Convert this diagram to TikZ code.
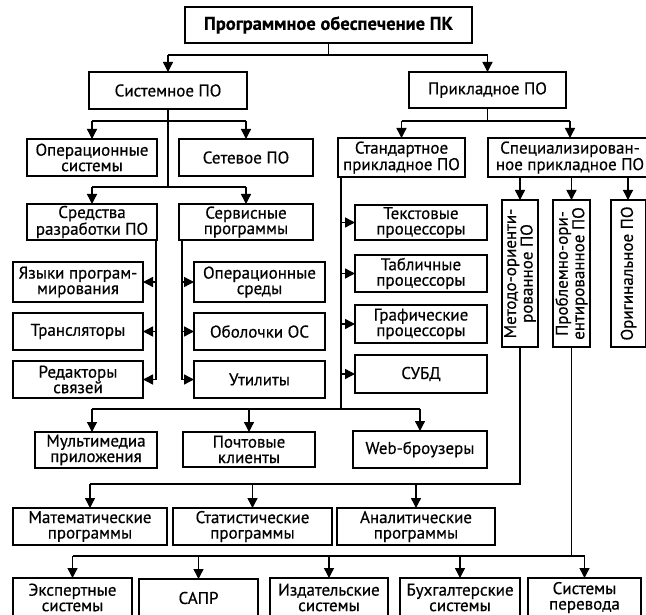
\documentclass[tikz,border=0pt]{standalone}
\usepackage{fontspec}
\setmainfont{PT Sans}[FakeBold=0.5]
\usetikzlibrary{arrows.meta}
\begin{document}
\begin{tikzpicture}[x=1pt,y=-1pt,
  box/.style={draw, line width=1.5pt, inner sep=0pt, outer sep=0pt, align=center,
    font=\fontsize{17}{15.5}\selectfont},
  bigbox/.style={box, line width=2.4pt},
  line/.style={line width=1.4pt},
  arr/.style={line width=1.4pt, -{Triangle[length=10pt,width=10pt]}}]
\newcommand\bx[7][]{\node[box,#1, minimum width={#5-#3}, minimum height={#6-#4}] (#2) at ({(#3+#5)/2},{(#4+#6)/2}) {#7};}
\newcommand\vbx[6]{\node[box, rotate=90, minimum width={#5-#3}, minimum height={#4-#2}] (#1) at ({(#2+#4)/2},{(#3+#5)/2}) {#6};}
\useasboundingbox (0,0) rectangle (646,615);
\clip (0,0) rectangle (646,615);
\fill[white] (0,0) rectangle (646,615);
% nodes
\bx[bigbox,font=\fontsize{18.5}{15.5}\selectfont\bfseries]{top}{185}{7}{472}{43}{Программное обеспечение ПК}
\bx[bigbox]{sys}{89}{72}{247}{109}{Системное ПО}
\bx[bigbox]{app}{409}{72}{566}{108}{Прикладное ПО}
\bx{os}{27}{139}{157}{176}{Операционные\\системы}
\bx{net}{179}{139}{313}{176}{Сетевое ПО}
\bx{dev}{27}{204}{157}{240}{Средства\\разработки ПО}
\bx{serv}{179}{204}{313}{240}{Сервисные\\программы}
\bx{lang}{13}{262}{143}{302}{Языки програм-\\мирования}
\bx{trans}{13}{313}{143}{350}{Трансляторы}
\bx{link}{13}{361}{143}{398}{Редакторы\\связей}
\bx{env}{194}{262}{325}{302}{Операционные\\среды}
\bx{shell}{194}{313}{325}{350}{Оболочки ОС}
\bx{util}{194}{361}{325}{398}{Утилиты}
\bx{std}{338}{138}{465}{177}{Стандартное\\прикладное ПО}
\bx{spec}{488}{138}{652}{177}{Специализирован-\\ное прикладное ПО}
\bx{text}{355}{205}{487}{240}{Текстовые\\процессоры}
\bx{table}{355}{255}{487}{292}{Табличные\\процессоры}
\bx{graph}{355}{305}{487}{343}{Графические\\процессоры}
\bx{dbms}{355}{355}{487}{393}{СУБД}
\vbx{meth}{502}{200}{538}{347}{Методо-ориенти-\\рованное ПО}
\vbx{prob}{553}{200}{590}{347}{Проблемно-ори-\\ентированное ПО}
\vbx{orig}{611}{200}{646}{347}{Оригинальное ПО}
\bx{mm}{35}{432}{157}{468}{Мультимедиа\\приложения}
\bx{mail}{183}{432}{315}{467}{Почтовые\\клиенты}
\bx{web}{353}{431}{487}{468}{Web-броузеры}
\bx{math}{13}{508}{167}{545}{Математические\\программы}
\bx{stat}{173}{508}{332}{545}{Статистические\\программы}
\bx{anal}{337}{508}{495}{545}{Аналитические\\программы}
\bx{exp}{13}{578}{132}{617}{Экспертные\\системы}
\bx{cad}{139}{579}{258}{617}{САПР}
\bx{pub}{270}{578}{388}{617}{Издательские\\системы}
\bx{acc}{400}{578}{520}{617}{Бухгалтерские\\системы}
\bx{transl}{528}{578}{641}{617}{Системы\\перевода}
% connectors
\coordinate (j1) at (0,55);
\draw[line] (top.south) -- (top.south |- j1);
\draw[line] (sys.north |- j1) -- (app.north |- j1);
\draw[arr] (sys.north |- j1) -- (sys.north);
\draw[arr] (app.north |- j1) -- (app.north);
% system
\coordinate (j2) at (0,121);
\coordinate (j3) at (0,187);
\draw[line] (sys.south) -- (sys.south |- j3);
\draw[line] (os.north |- j2) -- (net.north |- j2);
\draw[arr] (os.north |- j2) -- (os.north);
\draw[arr] (net.north |- j2) -- (net.north);
\draw[line] (dev.north |- j3) -- (serv.north |- j3);
\draw[arr] (dev.north |- j3) -- (dev.north);
\draw[arr] (serv.north |- j3) -- (serv.north);
% development tools
\coordinate (dl) at (156,0);
\draw[line] (dl |- dev.south) -- (dl |- link.east);
\draw[arr] (dl |- lang.east) -- (lang.east);
\draw[arr] (dl |- trans.east) -- (trans.east);
\draw[arr] (dl |- link.east) -- (link.east);
% service programs
\coordinate (sl) at (182,0);
\draw[line] (sl |- serv.south) -- (sl |- util.west);
\draw[arr] (sl |- env.west) -- (env.west);
\draw[arr] (sl |- shell.west) -- (shell.west);
\draw[arr] (sl |- util.west) -- (util.west);
% application
\coordinate (j4) at (0,121);
\draw[line] (app.south) -- (app.south |- j4);
\draw[line] (std.north |- j4) -- (spec.north |- j4);
\draw[arr] (std.north |- j4) -- (std.north);
\draw[arr] (spec.north |- j4) -- (spec.north);
% standard
\coordinate (stl) at (341,0);
\coordinate (j5) at (0,409);
\draw[line] (stl |- std.south) -- (stl |- j5);
\draw[arr] (stl |- text.west) -- (text.west);
\draw[arr] (stl |- table.west) -- (table.west);
\draw[arr] (stl |- graph.west) -- (graph.west);
\draw[arr] (stl |- dbms.west) -- (dbms.west);
\coordinate (mmx) at (92,0);
\draw[line] (mmx |- j5) -- (web.north |- j5);
\draw[arr] (mmx |- j5) -- (mmx |- mm.north);
\draw[arr] (mail.north |- j5) -- (mail.north);
\draw[arr] (web.north |- j5) -- (web.north);
% specialized
\draw[arr] (meth.east |- spec.south) -- (meth.east);
\draw[arr] (prob.east |- spec.south) -- (prob.east);
\coordinate (ox) at (628,0);
\draw[arr] (ox |- spec.south) -- (ox |- orig.east);
% method-oriented
\coordinate (j6) at (0,484);
\draw[line] (meth.west) -- (meth.west |- j6) -- (math.north |- j6);
\draw[arr] (math.north |- j6) -- (math.north);
\draw[arr] (stat.north |- j6) -- (stat.north);
\draw[arr] (anal.north |- j6) -- (anal.north);
% problem-oriented
\coordinate (j7) at (0,556);
\draw[line] (prob.west) -- (prob.west |- j7);
\draw[line] (exp.north |- j7) -- (transl.north |- j7);
\draw[arr] (exp.north |- j7) -- (exp.north);
\draw[arr] (cad.north |- j7) -- (cad.north);
\draw[arr] (pub.north |- j7) -- (pub.north);
\draw[arr] (acc.north |- j7) -- (acc.north);
\draw[arr] (transl.north |- j7) -- (transl.north);
\end{tikzpicture}
\end{document}
